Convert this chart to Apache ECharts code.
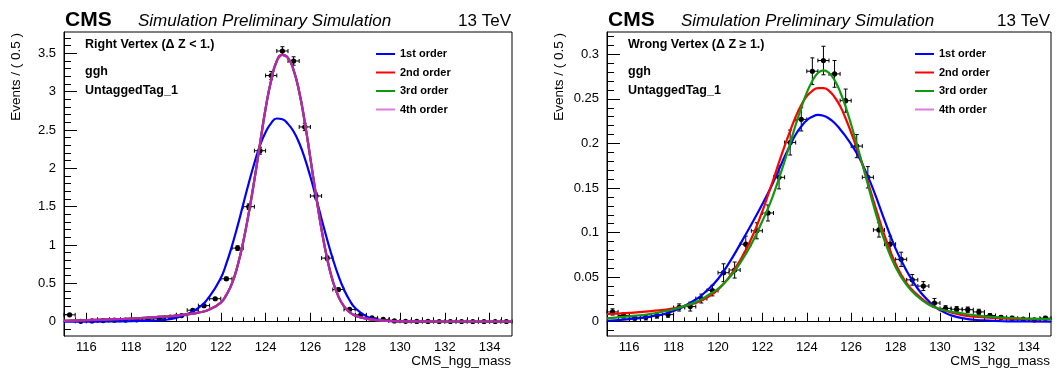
<!DOCTYPE html>
<html>
<head>
<meta charset="utf-8">
<script src="https://cdn.jsdelivr.net/npm/echarts@6/dist/echarts.min.js"></script>
<style>
html,body{margin:0;padding:0;background:#fff;}
#chart{width:1063px;height:369px;}
</style>
</head>
<body>
<div id="chart"></div>
<script>
// ---------------- data ----------------
const binCenters = [115.25,115.75,116.25,116.75,117.25,117.75,118.25,118.75,119.25,119.75,
  120.25,120.75,121.25,121.75,122.25,122.75,123.25,123.75,124.25,124.75,
  125.25,125.75,126.25,126.75,127.25,127.75,128.25,128.75,129.25,129.75,
  130.25,130.75,131.25,131.75,132.25,132.75,133.25,133.75,134.25,134.75];

// Right Vertex (left panel)
const eventsRV = [0.09,0.005,0.01,0.015,0.02,0.022,0.025,0.035,0.045,0.06,
  0.08,0.15,0.21,0.30,0.56,0.96,1.50,2.23,3.21,3.53,
  3.40,2.54,1.64,0.83,0.42,0.16,0.09,0.05,0.03,0.01,
  0.005,0.004,0.004,0.003,0.003,0.003,0.003,0.003,0.003,0.003];
const errRV = [0.01,0.003,0.003,0.004,0.004,0.005,0.005,0.006,0.007,0.007,
  0.008,0.012,0.014,0.017,0.022,0.03,0.037,0.045,0.054,0.056,
  0.055,0.048,0.038,0.027,0.019,0.012,0.009,0.007,0.005,0.003,
  0.002,0.002,0.002,0.002,0.002,0.002,0.002,0.002,0.002,0.002];

// Wrong Vertex (right panel)
const eventsWV = [0.011,0.007,0.004,0.005,0.007,0.008,0.016,0.017,0.026,0.035,
  0.055,0.058,0.087,0.102,0.122,0.162,0.201,0.227,0.281,0.293,
  0.278,0.248,0.197,0.162,0.103,0.087,0.070,0.047,0.040,0.021,
  0.015,0.014,0.0135,0.011,0.007,0.005,0.004,0.003,0.002,0.004];
const errWV = [0.0035,0.003,0.002,0.003,0.003,0.003,0.004,0.005,0.005,0.006,
  0.01,0.009,0.009,0.009,0.009,0.013,0.014,0.013,0.015,0.016,
  0.015,0.013,0.013,0.012,0.008,0.009,0.008,0.006,0.005,0.005,
  0.003,0.003,0.003,0.003,0.002,0.002,0.002,0.001,0.001,0.002];

// fit curves, left panel
const fitXL = [115,116,117,118,119,119.5,120,120.5,121,121.5,122,122.25,122.5,122.75,123,123.25,123.5,123.75,
  124,124.25,124.5,124.75,125,125.25,125.5,125.75,126,126.25,126.5,126.75,127,127.25,127.5,127.75,
  128,128.5,129,129.5,130,131,132,133,134,135];
const order1L = [0.001,0.002,0.004,0.008,0.015,0.025,0.05,0.1,0.18,0.33,0.57,0.76,0.99,1.25,1.53,1.81,2.07,2.3,
  2.47,2.59,2.65,2.64,2.58,2.48,2.33,2.13,1.89,1.62,1.34,1.07,0.82,0.6,0.42,0.28,
  0.18,0.07,0.028,0.01,0.004,0.001,0,0,0,0];
const orderHighL = [0.012,0.02,0.03,0.042,0.058,0.068,0.08,0.096,0.118,0.16,0.25,0.35,0.5,0.73,1.04,1.42,1.85,2.32,
  2.78,3.15,3.4,3.48,3.44,3.28,3.0,2.6,2.13,1.65,1.2,0.82,0.53,0.33,0.2,0.125,
  0.08,0.04,0.02,0.01,0.006,0.004,0.003,0.003,0.003,0.003];

// fit curves, right panel
const fitXR = [115,116,117,118,119,119.5,120,120.5,121,121.5,
  122,122.25,122.5,122.75,123,123.25,123.5,123.75,124,124.25,124.5,124.75,125,125.25,125.5,125.75,
  126,126.25,126.5,126.75,127,127.25,127.5,128,128.5,129,129.5,130,131,132,133,134,135];
const order1R = [0.001,0.003,0.006,0.012,0.025,0.035,0.048,0.066,0.087,0.109,
  0.132,0.144,0.157,0.171,0.185,0.198,0.21,0.219,0.226,0.23,0.232,0.231,0.228,0.223,0.216,0.208,
  0.199,0.189,0.177,0.163,0.148,0.131,0.114,0.082,0.057,0.037,0.023,0.013,0.004,0.0015,0.0005,0.0003,0.0002];
const order2R = [0.0087,0.01,0.012,0.015,0.021,0.027,0.036,0.05,0.069,0.093,
  0.124,0.142,0.16,0.179,0.197,0.214,0.23,0.243,0.253,0.259,0.262,0.262,0.259,0.252,0.242,0.228,
  0.212,0.195,0.177,0.157,0.136,0.116,0.097,0.065,0.043,0.03,0.02,0.014,0.0075,0.0048,0.0036,0.003,0.0028];
const order3R = [0.0038,0.006,0.009,0.014,0.022,0.029,0.037,0.049,0.066,0.087,
  0.113,0.127,0.143,0.161,0.18,0.2,0.221,0.24,0.257,0.27,0.279,0.282,0.279,0.271,0.258,0.241,
  0.221,0.199,0.177,0.154,0.131,0.11,0.091,0.061,0.041,0.028,0.019,0.014,0.0093,0.006,0.0045,0.0035,0.003];

// axis ticks / labels
const xMajor = [116,118,120,122,124,126,128,130,132,134];
const yMajorL = [0,0.5,1,1.5,2,2.5,3,3.5];
const yMajorR = [0,0.05,0.1,0.15,0.2,0.25,0.3];
const yLabelsR = ['0','0.05','0.1','0.15','0.2','0.25','0.3'];

// ---------------- layout ----------------
const FONT = '"Liberation Sans", Arial, Helvetica, sans-serif';
const P = [
  {left:64, right:512, top:32, bottom:336, ymin:-0.186, ymax:3.778},
  {left:607, right:1051, top:32, bottom:336, ymin:-0.016, ymax:0.325}
];
const COL = {o1:'#0000ff', o2:'#ff0000', o3:'#109910', o4:'#bb22bb', o4leg:'#e07ae0'};

const xMinor = []; for (let k = 231; k <= 269; k++) { const v = k/2; if (v % 2 !== 0) xMinor.push(v); }
const yMinorL = []; for (let k = -1; k <= 37; k++) { if (k % 5 !== 0) yMinorL.push(k/10); }
const yMinorR = []; for (let k = -1; k <= 32; k++) { if (k % 5 !== 0) yMinorR.push(k/100); }

function errBar(params, api) {
  const x = api.value(0), y = api.value(1), e = api.value(2);
  const c = api.coord([x, y]);
  const xl = api.coord([x - 0.25, y])[0], xr = api.coord([x + 0.25, y])[0];
  const yt = api.coord([x, y + e])[1], yb = api.coord([x, y - e])[1];
  const st = {stroke:'#000', lineWidth:1};
  const cap = 2;
  return {type:'group', children:[
    {type:'line', shape:{x1:xl, y1:c[1], x2:xr, y2:c[1]}, style:st},
    {type:'line', shape:{x1:xl, y1:c[1]-cap, x2:xl, y2:c[1]+cap}, style:st},
    {type:'line', shape:{x1:xr, y1:c[1]-cap, x2:xr, y2:c[1]+cap}, style:st},
    {type:'line', shape:{x1:c[0], y1:yt, x2:c[0], y2:yb}, style:st},
    {type:'line', shape:{x1:c[0]-cap, y1:yt, x2:c[0]+cap, y2:yt}, style:st},
    {type:'line', shape:{x1:c[0]-cap, y1:yb, x2:c[0]+cap, y2:yb}, style:st},
    {type:'circle', shape:{cx:c[0], cy:c[1], r:2.6}, style:{fill:'#000'}}
  ]};
}

const grids = P.map(p => ({left:p.left, top:p.top, width:p.right-p.left, height:p.bottom-p.top,
  show:true, borderColor:'#000', borderWidth:1, backgroundColor:'transparent', containLabel:false}));

const xAxes = [], yAxes = [];
P.forEach((p, i) => {
  xAxes.push({type:'value', gridIndex:i, position:'bottom', min:115, max:135,
    axisLine:{show:true, lineStyle:{color:'#000', width:1}},
    axisTick:{show:true, inside:true, length:9, customValues:xMajor, lineStyle:{color:'#000', width:1}},
    axisLabel:{show:true, customValues:xMajor, margin:5, color:'#000', fontSize:13, fontFamily:FONT},
    splitLine:{show:false}});
  xAxes.push({type:'value', gridIndex:i, position:'bottom', min:115, max:135,
    axisLine:{show:false},
    axisTick:{show:true, inside:true, length:4.5, customValues:xMinor, lineStyle:{color:'#000', width:1}},
    axisLabel:{show:false}, splitLine:{show:false}});
  const maj = i === 0 ? yMajorL : yMajorR;
  const mnr = i === 0 ? yMinorL : yMinorR;
  yAxes.push({type:'value', gridIndex:i, position:'left', min:p.ymin, max:p.ymax,
    axisLine:{show:true, lineStyle:{color:'#000', width:1}},
    axisTick:{show:true, inside:true, length:13, customValues:maj, lineStyle:{color:'#000', width:1}},
    axisLabel:{show:true, customValues:maj, margin:8, color:'#000', fontSize:13, fontFamily:FONT,
      formatter: i === 0 ? (v => String(v)) : (v => { const k = yMajorR.findIndex(m => Math.abs(m - v) < 1e-9); return k >= 0 ? yLabelsR[k] : ''; })},
    splitLine:{show:false}});
  yAxes.push({type:'value', gridIndex:i, position:'left', min:p.ymin, max:p.ymax,
    axisLine:{show:false},
    axisTick:{show:true, inside:true, length:7, customValues:mnr, lineStyle:{color:'#000', width:1}},
    axisLabel:{show:false}, splitLine:{show:false}});
});

function curve(name, xs, ys, color, axisIdx, z) {
  return {type:'line', name:name, xAxisIndex:axisIdx*2, yAxisIndex:axisIdx*2,
    data: xs.map((x, k) => [x, ys[k]]), showSymbol:false, symbol:'none',
    smooth:0.5, clip:true, z:z,
    lineStyle:{color:color, width:2.2}, itemStyle:{color:color}};
}

const series = [
  {type:'custom', name:'dataRV', xAxisIndex:0, yAxisIndex:0, renderItem:errBar, z:2,
    encode:{x:0, y:1}, data: binCenters.map((x, k) => [x, eventsRV[k], errRV[k]])},
  curve('1st order', fitXL, order1L, COL.o1, 0, 3),
  curve('2nd order', fitXL, orderHighL, COL.o2, 0, 4),
  curve('3rd order', fitXL, orderHighL, COL.o3, 0, 5),
  curve('4th order', fitXL, orderHighL, COL.o4, 0, 6),
  {type:'custom', name:'dataWV', xAxisIndex:2, yAxisIndex:2, renderItem:errBar, z:2,
    encode:{x:0, y:1}, data: binCenters.map((x, k) => [x, eventsWV[k], errWV[k]])},
  curve('1st order', fitXR, order1R, COL.o1, 1, 3),
  curve('2nd order', fitXR, order2R, COL.o2, 1, 4),
  curve('4th order', [], [], COL.o4, 1, 5),
  curve('3rd order', fitXR, order3R, COL.o3, 1, 6)
];

const legendItems = [
  {name:'1st order', icon:'rect', itemStyle:{color:COL.o1}},
  {name:'2nd order', icon:'rect', itemStyle:{color:COL.o2}},
  {name:'3rd order', icon:'rect', itemStyle:{color:COL.o3}},
  {name:'4th order', icon:'rect', itemStyle:{color:COL.o4leg}}
];
const legends = P.map(p => ({orient:'vertical', left:p.right-136, top:48, itemWidth:19, itemHeight:2, itemGap:6.5,
  icon:'rect', selectedMode:false, data:legendItems, padding:0,
  textStyle:{color:'#000', fontSize:11, fontWeight:'bold', fontFamily:FONT, lineHeight:12}}));

function txt(x, y, text, font, align, rot) {
  const el = {type:'text', x:x, y:y, silent:true,
    style:{text:text, font:font, fill:'#000', align:align, verticalAlign:'middle', textAlign:align, textVerticalAlign:'middle'}};
  if (rot) el.rotation = rot;
  return el;
}
const graphics = [];
const innerTitles = ['Right Vertex (\u0394 Z < 1.)', 'Wrong Vertex (\u0394 Z \u2265 1.)'];
P.forEach((p, i) => {
  graphics.push(txt(p.left + 1, 20, 'CMS', 'bold 21px ' + FONT, 'left'));
  graphics.push(txt(p.left + 74, 21, 'Simulation Preliminary Simulation', 'italic 17px ' + FONT, 'left'));
  graphics.push(txt(p.right - 1, 21, '13 TeV', '17px ' + FONT, 'right'));
  graphics.push(txt(p.left + 21, 45, innerTitles[i], 'bold 12.5px ' + FONT, 'left'));
  graphics.push(txt(p.left + 21, 72, 'ggh', 'bold 12.5px ' + FONT, 'left'));
  graphics.push(txt(p.left + 21, 91, 'UntaggedTag_1', 'bold 12.5px ' + FONT, 'left'));
  graphics.push(txt(p.right - 1, 361, 'CMS_hgg_mass', '13.5px ' + FONT, 'right'));
  graphics.push(txt(p.left - 48, 33, 'Events / ( 0.5 )', '13.5px ' + FONT, 'right', Math.PI / 2));
});

const chart = echarts.init(document.getElementById('chart'), null, {renderer:'canvas'});
chart.setOption({
  animation:false,
  backgroundColor:'#fff',
  grid:grids, xAxis:xAxes, yAxis:yAxes, legend:legends, series:series, graphic:graphics
});
</script>
</body>
</html>
